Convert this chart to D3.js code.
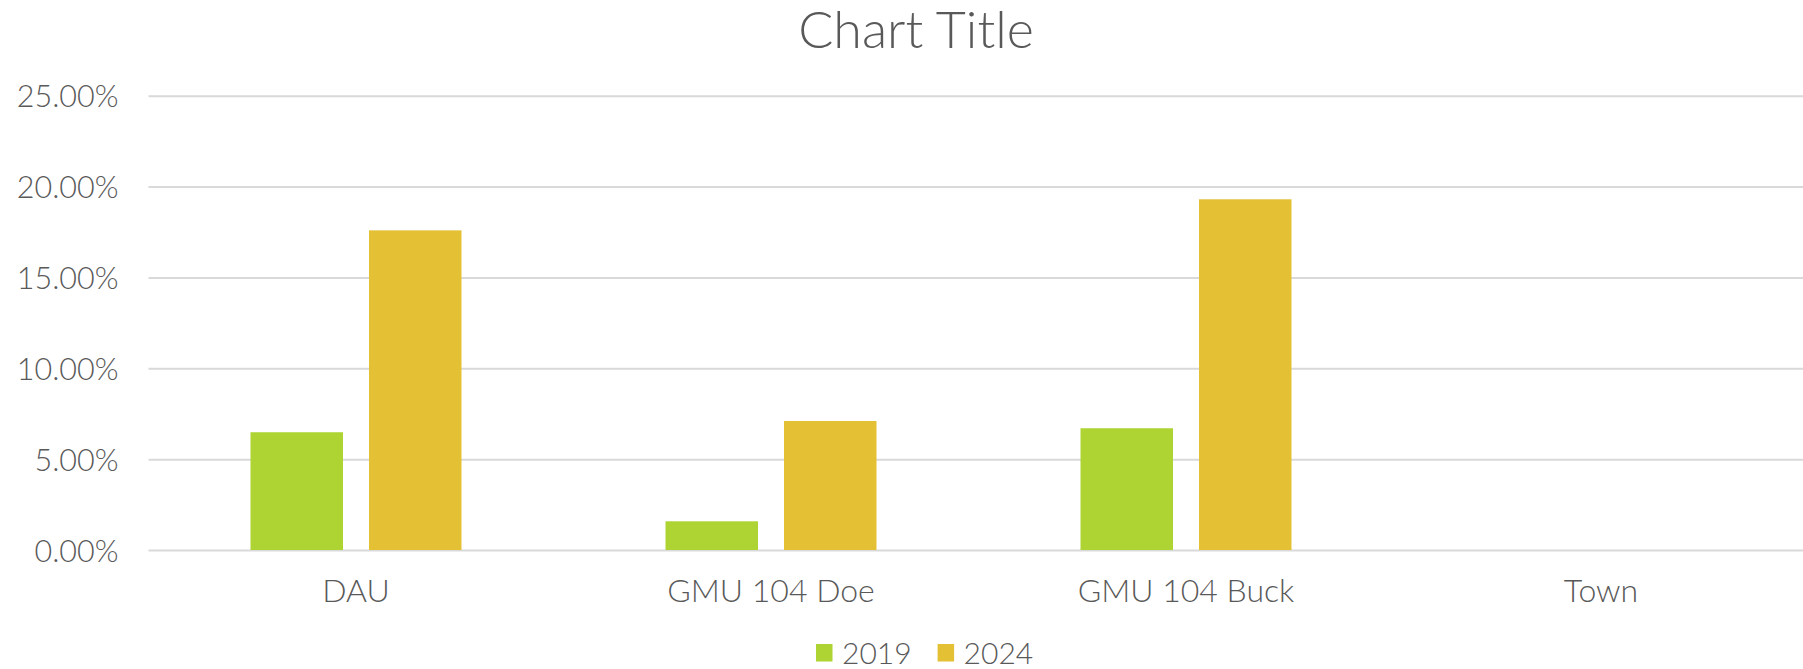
<!DOCTYPE html>
<html>
<head>
<meta charset="utf-8">
<script src="https://cdn.jsdelivr.net/npm/d3@7"></script>
<style>
  html, body { margin: 0; padding: 0; background: #ffffff; }
  svg { display: block; }
  text { font-family: Lato, "Open Sans", sans-serif; fill: #595959; font-weight: 300; }
</style>
</head>
<body>
<svg id="chart" width="1803" height="669"></svg>
<script>
// ---- data ----
const categories = ["DAU", "GMU 104 Doe", "GMU 104 Buck", "Town"];
const seriesNames = ["2019", "2024"];
const values2019 = [6.48, 1.58, 6.70, 0];
const values2024 = [17.59, 7.10, 19.30, 0];
const yTicks = [0, 5, 10, 15, 20, 25];
const chartTitle = "Chart Title";

// ---- layout ----
const W = 1803, H = 669;
const plot = { left: 148.5, right: 1808.5, top: 95.7, bottom: 550 };
const titleCenterX = 916;
const colors = { "2019": "#add433", "2024": "#e4c035" };

const svg = d3.select("#chart");

const x0 = d3.scaleBand()
  .domain(categories)
  .range([plot.left, plot.right])
  .paddingInner(0.4916)
  .paddingOuter(0.2458);

const x1 = d3.scaleBand()
  .domain(seriesNames)
  .range([0, x0.bandwidth()])
  .paddingInner(0.2194)
  .paddingOuter(0);

const y = d3.scaleLinear()
  .domain([0, 25])
  .range([plot.bottom, plot.top]);

// gridlines
svg.append("g")
  .attr("transform", `translate(${plot.left},0)`)
  .call(d3.axisLeft(y).tickValues(yTicks).tickSize(-(plot.right - plot.left)).tickFormat(""))
  .call(g => g.select(".domain").remove())
  .call(g => g.selectAll("line").attr("stroke", "#d9d9d9").attr("stroke-width", 2));

// y labels
svg.append("g")
  .attr("transform", `translate(${plot.left},0)`)
  .call(d3.axisLeft(y).tickValues(yTicks).tickSize(0).tickPadding(30)
    .tickFormat(d => d.toFixed(2) + "%"))
  .call(g => g.select(".domain").remove())
  .call(g => g.selectAll("text")
    .attr("font-size", 30.5)
    .attr("font-family", "Lato")
    .attr("font-weight", 300)
    .attr("fill", "#595959")
    .attr("dy", "0.37em"));

// bars
const rows = categories.map((c, i) => ({ cat: c, vals: [
  { s: "2019", v: values2019[i] },
  { s: "2024", v: values2024[i] }
]}));

const groups = svg.append("g").selectAll("g")
  .data(rows).join("g")
  .attr("transform", d => `translate(${x0(d.cat)},0)`);

groups.selectAll("rect")
  .data(d => d.vals).join("rect")
  .attr("x", d => x1(d.s))
  .attr("width", x1.bandwidth())
  .attr("y", d => y(d.v))
  .attr("height", d => y(0) - y(d.v))
  .attr("fill", d => colors[d.s]);

// x labels
svg.append("g")
  .attr("transform", `translate(0,${plot.bottom})`)
  .call(d3.axisBottom(x0).tickSize(0).tickPadding(0))
  .call(g => g.select(".domain").remove())
  .call(g => g.selectAll("text")
    .attr("font-size", 32)
    .attr("font-family", "Lato")
    .attr("font-weight", 300)
    .attr("fill", "#595959")
    .attr("dy", null)
    .attr("y", 52));

// title
svg.append("text")
  .attr("x", titleCenterX)
  .attr("y", 48)
  .attr("text-anchor", "middle")
  .attr("font-size", 52)
  .text(chartTitle);

// legend
const legend = svg.append("g").attr("transform", "translate(816,0)");
let lx = 0;
seriesNames.forEach(s => {
  legend.append("rect")
    .attr("x", lx).attr("y", 644)
    .attr("width", 16.5).attr("height", 17.5)
    .attr("fill", colors[s]);
  const t = legend.append("text")
    .attr("x", lx + 26).attr("y", 664)
    .attr("font-size", 30)
    .text(s);
  lx += 26 + t.node().getComputedTextLength() + 26;
});
</script>
</body>
</html>
